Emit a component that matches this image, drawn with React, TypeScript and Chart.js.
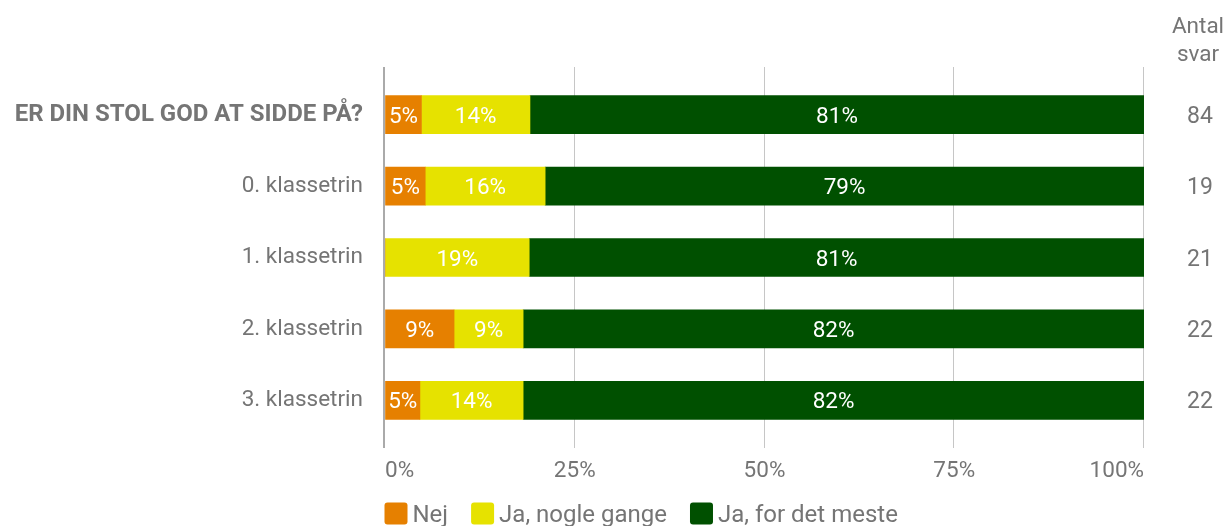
import React, { useEffect, useRef } from 'react';
import { Chart, registerables } from 'chart.js';

Chart.register(...registerables);

const categories = ['ER DIN STOL GOD AT SIDDE PÅ?', '0. klassetrin', '1. klassetrin', '2. klassetrin', '3. klassetrin'];
const seriesNames = ['Nej', 'Ja, nogle gange', 'Ja, for det meste'];
const nej = [4.8, 5.3, 0, 9.1, 4.6];
const nogleGange = [14.3, 15.8, 19.0, 9.1, 13.6];
const forDetMeste = [80.9, 78.9, 81.0, 81.8, 81.8];
const antalSvar = [84, 19, 21, 22, 22];
const antalHeader = ['Antal', 'svar'];
const xTickValues = [0, 25, 50, 75, 100];
const seriesColors = ['#E68000', '#E6E200', '#005000'];

const FONT = 'Roboto, "Noto Sans", sans-serif';
const GRAY = '#757575';

const decorPlugin = {
  id: 'decor',
  beforeDatasetsDraw(chart: any) {
    const { ctx, chartArea: a, scales } = chart;
    const xs = scales.x;
    const top = a.top - 12;
    const bottom = a.bottom + 12;
    ctx.save();
    xs.ticks.forEach((t: any) => {
      if (t.value === 0) return;
      const px = Math.round(xs.getPixelForValue(t.value)) - 0.5;
      ctx.strokeStyle = '#c6c6c6';
      ctx.lineWidth = 1;
      ctx.beginPath();
      ctx.moveTo(px, top);
      ctx.lineTo(px, bottom);
      ctx.stroke();
    });
    ctx.fillStyle = '#aaaaaa';
    ctx.fillRect(a.left - 2, top, 2, bottom - top);
    ctx.restore();
  },
  afterDatasetsDraw(chart: any) {
    const { ctx, scales } = chart;
    ctx.save();
    ctx.textAlign = 'center';
    ctx.textBaseline = 'alphabetic';
    // bar labels
    ctx.font = `22.5px ${FONT}`;
    chart.data.datasets.forEach((ds: any, di: number) => {
      const meta = chart.getDatasetMeta(di);
      meta.data.forEach((bar: any, i: number) => {
        const v = ds.data[i];
        if (!v) return;
        const p = bar.getProps(['x', 'base', 'y'], true);
        ctx.fillStyle = '#ffffff';
        ctx.fillText(Math.round(v) + '%', (p.x + p.base) / 2, p.y + 8);
      });
    });
    // counts on the right
    ctx.fillStyle = GRAY;
    ctx.font = `23px ${FONT}`;
    antalSvar.forEach((n, i) => {
      ctx.fillText(String(n), 1200, scales.y.getPixelForValue(i) + 8);
    });
    // header
    ctx.font = `22.5px ${FONT}`;
    ctx.fillText(antalHeader[0], 1198, 33);
    ctx.fillText(antalHeader[1], 1198, 61);
    // legend
    ctx.font = `24px ${FONT}`;
    ctx.textAlign = 'left';
    let lx = 384.5;
    const boxW = 23;
    const boxH = 22;
    const ly = 502.5;
    chart.data.datasets.forEach((ds: any) => {
      ctx.fillStyle = ds.backgroundColor;
      ctx.beginPath();
      if (ctx.roundRect) ctx.roundRect(lx, ly, boxW, boxH, 3);
      else ctx.rect(lx, ly, boxW, boxH);
      ctx.fill();
      const tx = lx + boxW + 5;
      ctx.fillStyle = GRAY;
      ctx.fillText(ds.label, tx, 521.5);
      lx = tx + ctx.measureText(ds.label).width + 23;
    });
    ctx.restore();
  },
};

export default function App() {
  const ref = useRef<HTMLCanvasElement | null>(null);
  useEffect(() => {
    if (!ref.current) return;
    const data = [nej, nogleGange, forDetMeste];
    const chart = new Chart(ref.current, {
      type: 'bar',
      data: {
        labels: categories,
        datasets: seriesNames.map((name, i) => ({
          label: name,
          data: data[i],
          backgroundColor: seriesColors[i],
          borderWidth: 0,
          barThickness: 38,
        })),
      },
      options: {
        indexAxis: 'y',
        responsive: false,
        animation: false,
        layout: { padding: { left: 0, right: 85, top: 79, bottom: 0 } },
        plugins: {
          legend: { display: false },
          tooltip: { enabled: false },
        },
        scales: {
          x: {
            stacked: true,
            min: 0,
            max: 100,
            afterBuildTicks: (s: any) => {
              s.ticks = xTickValues.map((v) => ({ value: v }));
            },
            afterFit: (s: any) => {
              s.height = 90;
            },
            border: { display: false },
            grid: {
              display: true,
              drawOnChartArea: false,
              drawTicks: true,
              tickLength: 12,
              color: 'rgba(0,0,0,0)',
            },
            ticks: {
              align: 'inner',
              padding: 10,
              color: GRAY,
              font: { family: FONT, size: 22.5 },
              callback: (v: any) => v + '%',
              maxRotation: 0,
              autoSkip: false,
            },
          },
          y: {
            stacked: true,
            afterFit: (s: any) => {
              s.width = 385;
            },
            border: { display: false },
            grid: { display: false, drawTicks: false },
            ticks: {
              padding: 22,
              color: GRAY,
              autoSkip: false,
              font: (c: any) =>
                c.index === 0
                  ? { family: FONT, size: 24, weight: 'bold' }
                  : { family: FONT, size: 22.5 },
            },
          },
        },
      },
      plugins: [decorPlugin],
    });
    return () => chart.destroy();
  }, []);
  return (
    <div style={{ position: 'absolute', left: 0, top: 0, width: 1229, height: 526, background: '#fff' }}>
      <canvas ref={ref} width={1229} height={526} />
    </div>
  );
}
